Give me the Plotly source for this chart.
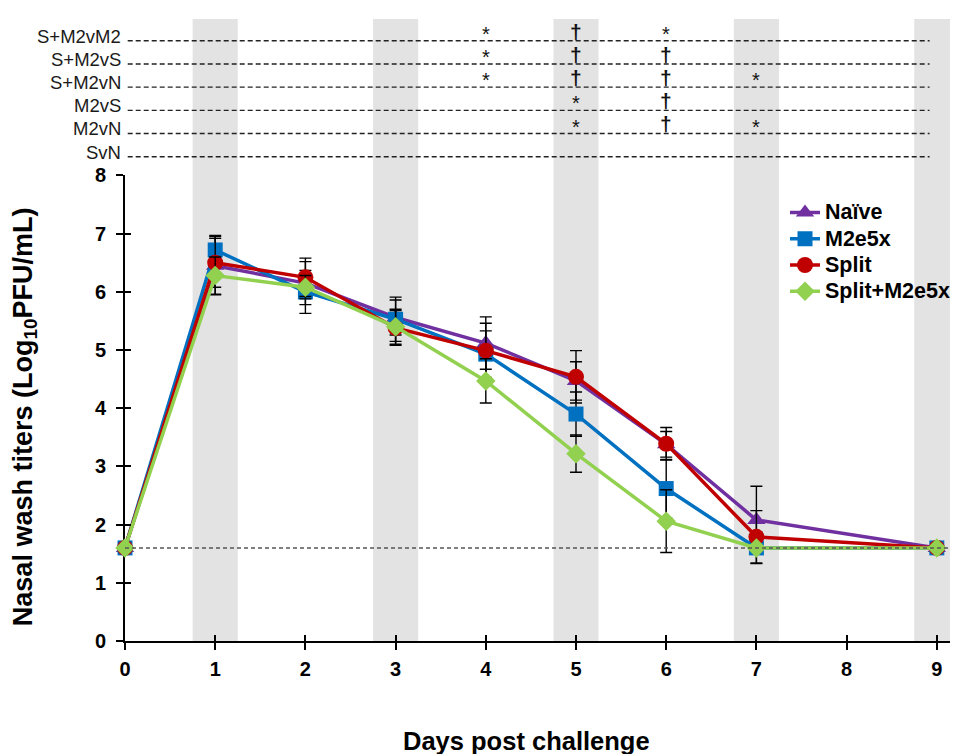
import plotly.graph_objects as go

# ---------------- data ----------------
days = [0, 1, 2, 3, 4, 5, 6, 7, 9]
naive = [1.6, 6.45, 6.15, 5.56, 5.12, 4.47, 3.38, 2.08, 1.6]
m2e5x = [1.6, 6.72, 6.00, 5.53, 4.93, 3.90, 2.62, 1.60, 1.6]
split = [1.6, 6.50, 6.25, 5.38, 4.99, 4.54, 3.39, 1.79, 1.6]
split_m2 = [1.6, 6.28, 6.08, 5.40, 4.47, 3.22, 2.06, 1.60, 1.6]

naive_err = [0, 0.50, 0.37, 0.30, 0.45, 0.33, 0.22, 0.58, 0]
m2e5x_err = [0, 0.25, 0.37, 0.38, 0.40, 0.38, 0.50, 0.27, 0]
split_err = [0, 0.42, 0.33, 0.30, 0.47, 0.45, 0.28, 0.45, 0]
split_m2_err = [0, 0.32, 0.20, 0.30, 0.38, 0.32, 0.54, 0.05, 0]

series_names = ["Naïve", "M2e5x", "Split", "Split+M2e5x"]
series_vals = [naive, m2e5x, split, split_m2]
series_errs = [naive_err, m2e5x_err, split_err, split_m2_err]
colors = ["#7030A0", "#0070C0", "#C00000", "#92D050"]
symbols = ["triangle-up", "square", "circle", "diamond"]
msizes = [16, 15, 16, 15]

shaded_days = [1, 3, 5, 7, 9]
lod = 1.6

# significance rows (top to bottom) and marks: {day: symbol}
comp_labels = ["S+M2vM2", "S+M2vS", "S+M2vN", "M2vS", "M2vN", "SvN"]
comp_marks = [
    {4: "*", 5: "†", 6: "*"},
    {4: "*", 5: "†", 6: "†"},
    {4: "*", 5: "†", 6: "†", 7: "*"},
    {5: "*", 6: "†"},
    {5: "*", 6: "†", 7: "*"},
    {},
]

y_ticks = list(range(0, 9))
x_ticks = [0, 1, 2, 3, 4, 5, 6, 7, 8, 9]

# ---------------- layout geometry ----------------
FONT = "Liberation Sans, Arial, sans-serif"
OFF = 8                      # page body margin of the html page
W, H = 958 - OFF, 754 - OFF
PL, PR, PT, PB = 125, 958, 13, 641   # plot-area edges in window pixels
ml, mr, mt, mb = PL - OFF, 958 - PR, PT - OFF, 754 - PB
main_top = (PB - 171) / (PB - PT)
x_max = 9.235


def px(xp):
    return (xp - PL) / (PR - PL)


def py(yp):
    return (PB - yp) / (PB - PT)


fig = go.Figure()

for name, vals, errs, col, sym, ms in zip(series_names, series_vals, series_errs,
                                           colors, symbols, msizes):
    fig.add_trace(go.Scatter(
        x=days, y=vals,
        name=f'<span style="font-size:21.5px">{name}</span>',
        mode="lines+markers",
        line=dict(color=col, width=3.5),
        marker=dict(symbol=sym, size=ms, color=col),
        error_y=dict(type="data", array=errs, visible=True,
                     color="black", thickness=1.4, width=6),
        cliponaxis=False,
    ))

# dummy traces so the extra axes exist
fig.add_trace(go.Scatter(x=[0], y=[0], xaxis="x", yaxis="y2", mode="markers",
                         marker=dict(opacity=0), showlegend=False, hoverinfo="skip"))
fig.add_trace(go.Scatter(x=[0], y=[0], xaxis="x3", yaxis="y3", mode="markers",
                         marker=dict(opacity=0), showlegend=False, hoverinfo="skip"))

shapes = []
for d in shaded_days:
    shapes.append(dict(type="rect", xref="x", yref="paper", x0=d - 0.25, x1=d + 0.25,
                       y0=0, y1=1, fillcolor="#E3E3E3", line=dict(width=0),
                       layer="below"))
shapes.append(dict(type="line", xref="paper", yref="y", x0=0, x1=1, y0=lod, y1=lod,
                   line=dict(color="#555555", width=1.5, dash="4px,3px"), layer="above"))

n = len(comp_labels)
annotations = []
for i, (lab, marks) in enumerate(zip(comp_labels, comp_marks)):
    r = n - 1 - i
    shapes.append(dict(type="line", xref="x", yref="y2", x0=0.03, x1=8.92, y0=r, y1=r,
                       line=dict(color="#222222", width=1.4, dash="5px,3px")))
    annotations.append(dict(text=lab, xref="paper", yref="y2", x=0, y=r + 0.2,
                            xanchor="right", yanchor="middle", xshift=-2, showarrow=False,
                            font=dict(family=FONT, size=18.5, color="#1a1a1a")))
    for d, s in marks.items():
        annotations.append(dict(text=s if s == "*" else f"<b>{s}</b>",
                                xref="x", yref="y2", x=d,
                                y=r + (0.3 if s == "*" else 0.42),
                                xanchor="center", yanchor="middle", showarrow=False,
                                font=dict(family=FONT, size=20 if s == "*" else 21,
                                          color="#111111")))

annotations.append(dict(text="<b>Days post challenge</b>", xref="paper", yref="paper",
                        x=px(526), y=py(742), xanchor="center", yanchor="middle",
                        showarrow=False, font=dict(family=FONT, size=25.5, color="black")))
annotations.append(dict(text="<b>Nasal wash titers (Log<sub>10</sub>PFU/mL)</b>",
                        xref="paper", yref="paper", x=px(25), y=py(415),
                        xanchor="center", yanchor="middle", textangle=-90,
                        showarrow=False, font=dict(family=FONT, size=27, color="black")))

axis_common = dict(showgrid=False, zeroline=False, showline=True, linecolor="black",
                   linewidth=2, ticks="outside", ticklen=7, tickwidth=2, tickcolor="black",
                   tickfont=dict(family=FONT, size=20), layer="below traces")

fig.update_layout(
    width=W, height=H,
    margin=dict(l=ml, r=mr, t=mt, b=mb, pad=0),
    paper_bgcolor="white", plot_bgcolor="rgba(0,0,0,0)",
    font=dict(family=FONT, color="black"),
    xaxis=dict(range=[0, x_max], tickvals=x_ticks,
               ticktext=[f"<b>{t}</b>" for t in x_ticks], anchor="y",
               ticklabelstandoff=2, **axis_common),
    yaxis=dict(domain=[0, main_top], range=[0, 8], tickvals=y_ticks,
               ticktext=[f"<b>{t}</b>" for t in y_ticks], anchor="x",
               ticklabelstandoff=6, **axis_common),
    yaxis2=dict(domain=[main_top, 1], range=[-0.81, 5.94], visible=False, anchor="x"),
    xaxis3=dict(overlaying="x", range=[0, x_max], tickvals=x_ticks, ticks="inside",
                ticklen=6, tickwidth=2, tickcolor="black", showticklabels=False,
                showgrid=False, zeroline=False, showline=False, anchor="y3"),
    yaxis3=dict(overlaying="y", range=[0, 8], tickvals=y_ticks, ticks="inside",
                ticklen=6, tickwidth=2, tickcolor="black", showticklabels=False,
                showgrid=False, zeroline=False, showline=False, anchor="x3"),
    legend=dict(x=px(785), y=py(190), xanchor="left", yanchor="top",
                bgcolor="rgba(0,0,0,0)",
                font=dict(family=FONT, size=17.9, color="black", weight="bold"),
                tracegroupgap=0, itemsizing="trace"),
    shapes=shapes,
    annotations=annotations,
    showlegend=True,
)

fig.write_html("out.html")
